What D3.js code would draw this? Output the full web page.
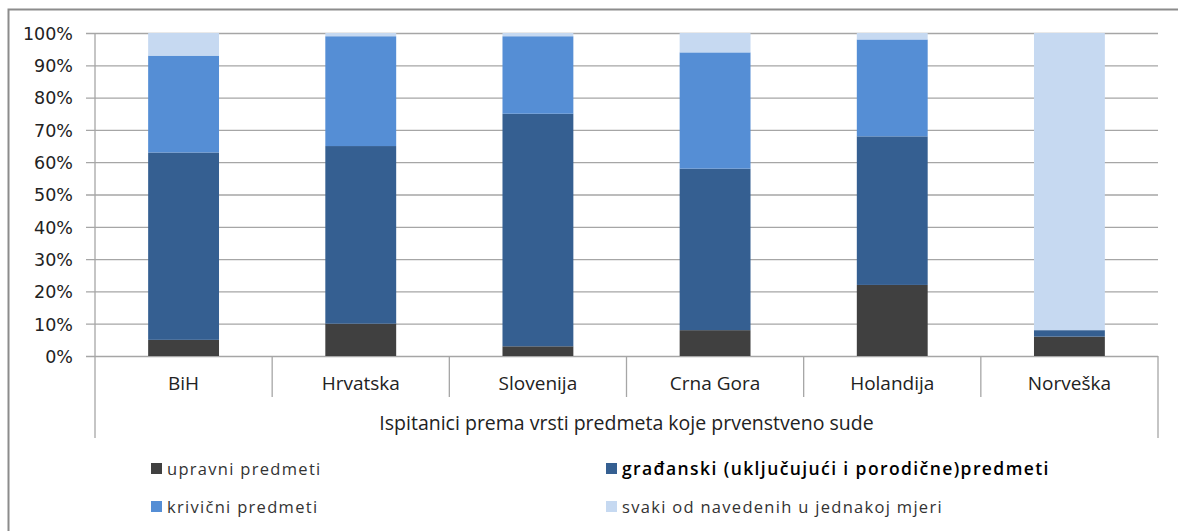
<!DOCTYPE html>
<html>
<head>
<meta charset="utf-8">
<script src="https://cdn.jsdelivr.net/npm/d3@7"></script>
<style>
  html, body { margin: 0; padding: 0; background: #fff; }
  svg { display: block; }
</style>
</head>
<body>
<div id="chart"></div>
<script>
const countries = ['BiH', 'Hrvatska', 'Slovenija', 'Crna Gora', 'Holandija', 'Norveška'];

const seriesNames = [
  'upravni predmeti',
  'građanski (uključujući i porodične)predmeti',
  'krivični predmeti',
  'svaki od navedenih u jednakoj mjeri'
];
const seriesColors = ['#404040', '#355f91', '#558ed5', '#c6d9f1'];

// shares per country, in percent
const upravni    = [5, 10, 3, 8, 22, 6];
const gradjanski = [58, 55, 72, 50, 46, 2];
const krivicni   = [30, 34, 24, 36, 30, 0];
const svaki      = [7, 1, 1, 6, 2, 92];

const yTicks = [0, 10, 20, 30, 40, 50, 60, 70, 80, 90, 100];
const axisTitle = 'Ispitanici prema vrsti predmeta koje prvenstveno sude';

const width = 1178;
const height = 531;
const plot = { left: 95, right: 1158, top: 33, bottom: 356 };

const svg = d3.select('#chart')
  .append('svg')
  .attr('width', width)
  .attr('height', height);

svg.append('rect')
  .attr('width', width)
  .attr('height', height)
  .attr('fill', '#fff');

// outer chart frame (only left and top edges are inside the picture)
svg.append('path')
  .attr('d', `M8.5,${height} V9.5 H${width}`)
  .attr('fill', 'none')
  .attr('stroke', '#8c8c8c')
  .attr('stroke-width', 2);

const x = d3.scaleBand()
  .domain(countries)
  .range([plot.left, plot.right])
  .paddingInner(0.6)
  .paddingOuter(0.3);

const y = d3.scaleLinear()
  .domain([0, 100])
  .range([plot.bottom, plot.top]);

// gridlines + y axis
const yAxis = d3.axisLeft(y)
  .tickValues(yTicks)
  .tickSize(-(plot.right - plot.left))
  .tickFormat(d => d + '%');

const yg = svg.append('g')
  .attr('transform', `translate(${plot.left},0)`)
  .call(yAxis);

yg.select('.domain').remove();
yg.selectAll('.tick line')
  .attr('x1', -9)
  .attr('stroke', '#a6a6a6')
  .attr('stroke-width', 1.3);
yg.selectAll('.tick text')
  .attr('x', -22)
  .attr('dy', '0.36em')
  .attr('fill', '#222')
  .style('font-family', 'DejaVu Sans, sans-serif')
  .style('font-size', '17.5px');

// stacked bars
const rows = countries.map((c, i) => ({
  country: c,
  s0: upravni[i],
  s1: gradjanski[i],
  s2: krivicni[i],
  s3: svaki[i]
}));

const stack = d3.stack().keys(['s0', 's1', 's2', 's3']);
const layers = stack(rows);

svg.append('g')
  .selectAll('g')
  .data(layers)
  .join('g')
  .attr('fill', (d, i) => seriesColors[i])
  .selectAll('rect')
  .data(d => d)
  .join('rect')
  .attr('x', d => x(d.data.country))
  .attr('width', x.bandwidth())
  .attr('y', d => y(d[1]))
  .attr('height', d => y(d[0]) - y(d[1]));

// category axis: vertical y-axis line and separators
const step = x.step();
const bounds = d3.range(countries.length + 1).map(i => plot.left + i * step);

svg.append('line')
  .attr('x1', plot.left).attr('x2', plot.left)
  .attr('y1', plot.top).attr('y2', 438)
  .attr('stroke', '#a6a6a6')
  .attr('stroke-width', 1.3);

svg.append('g')
  .selectAll('line')
  .data(bounds.slice(1))
  .join('line')
  .attr('x1', d => d).attr('x2', d => d)
  .attr('y1', plot.bottom)
  .attr('y2', (d, i) => i === countries.length - 1 ? 438 : 397)
  .attr('stroke', '#a6a6a6')
  .attr('stroke-width', 1.3);

svg.append('g')
  .selectAll('text')
  .data(countries)
  .join('text')
  .attr('x', d => x(d) + x.bandwidth() / 2)
  .attr('y', 390)
  .attr('text-anchor', 'middle')
  .attr('fill', '#222')
  .style('font-family', 'Open Sans, sans-serif')
  .style('font-size', '19px')
  .text(d => d);

svg.append('text')
  .attr('x', (plot.left + plot.right) / 2)
  .attr('y', 430)
  .attr('text-anchor', 'middle')
  .attr('fill', '#222')
  .style('font-family', 'Open Sans, sans-serif')
  .style('font-size', '19.5px')
  .text(axisTitle);

// legend, two columns
const legendPos = [
  { x: 151, y: 463 },
  { x: 606, y: 463 },
  { x: 151, y: 501 },
  { x: 606, y: 501 }
];

const legend = svg.append('g')
  .selectAll('g')
  .data(seriesNames)
  .join('g')
  .attr('transform', (d, i) => `translate(${legendPos[i].x},${legendPos[i].y})`);

legend.append('rect')
  .attr('width', 11)
  .attr('height', 11)
  .attr('fill', (d, i) => seriesColors[i]);

legend.append('text')
  .attr('x', 16)
  .attr('y', 12)
  .attr('fill', (d, i) => i === 1 ? '#000' : '#333')
  .style('font-family', 'Open Sans, sans-serif')
  .style('font-size', (d, i) => i === 1 ? '17.5px' : '16.5px')
  .style('font-weight', (d, i) => i === 1 ? 600 : 400)
  .style('letter-spacing', (d, i) => i === 1 ? '1.4px' : '1.3px')
  .text(d => d);
</script>
</body>
</html>
